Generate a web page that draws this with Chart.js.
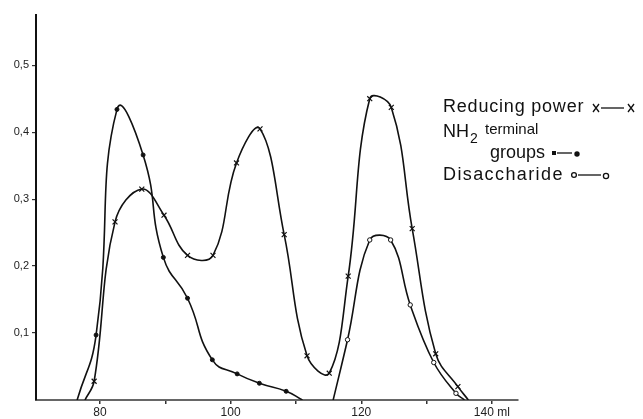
<!DOCTYPE html>
<html>
<head>
<meta charset="utf-8">
<script src="https://cdn.jsdelivr.net/npm/chart.js@4"></script>
<style>
  html, body { margin: 0; padding: 0; background: #fff; }
  #wrap { width: 643px; height: 419px; position: relative; }
</style>
</head>
<body>
<div id="wrap"><canvas id="elution"></canvas></div>
<script>
/* Elution profile: reducing power, NH2 terminal groups, disaccharide */

// ml of eluate
const reducingMl = [77.7, 79.1, 82.3, 86.4, 89.8, 93.4, 97.3, 100.9, 104.5, 108.2, 111.7, 115.1, 118.0, 121.3, 124.6, 127.8, 131.4, 134.8, 136.4];
const reducingVal = [0, 0.028, 0.266, 0.315, 0.276, 0.216, 0.216, 0.354, 0.405, 0.247, 0.066, 0.040, 0.185, 0.450, 0.437, 0.256, 0.069, 0.020, 0];

const nh2Ml = [76.5, 79.4, 82.6, 86.6, 89.7, 93.4, 97.2, 101.0, 104.4, 108.5, 111.0];
const nh2Val = [0, 0.097, 0.434, 0.366, 0.213, 0.152, 0.060, 0.039, 0.025, 0.013, 0];

const disaccMl = [115.7, 117.9, 121.3, 124.5, 127.5, 131.1, 134.5, 135.8];
const disaccVal = [0, 0.090, 0.239, 0.239, 0.142, 0.056, 0.010, 0];

const xTicks = [80, 90, 100, 110, 120, 130, 140];
const xTickLabels = { 80: '80', 100: '100', 120: '120', 140: '140 ml' };
const yTicks = [0.1, 0.2, 0.3, 0.4, 0.5];

const toPoints = (xs, ys) => xs.map((x, i) => ({ x: x, y: ys[i] }));
const onBase = (ctx) => ctx.raw && ctx.raw.y === 0;

const LINE = '#111';
const FONT = '"Liberation Sans", Arial, sans-serif';

// legend is hand lettered in the original, so draw it as text next to the plot
const legendText = {
    id: 'legendText',
    afterDraw(chart) {
        const c = chart.ctx;
        c.save();
        c.fillStyle = LINE;
        c.strokeStyle = LINE;
        c.lineWidth = 1.3;
        c.textBaseline = 'alphabetic';
        c.font = '18px ' + FONT;
        c.letterSpacing = '0.8px';
        c.fillText('Reducing power', 443, 112);
        c.letterSpacing = '1.4px';
        c.fillText('Disaccharide', 443, 180);
        c.letterSpacing = '0px';
        c.fillText('NH', 443, 137);
        c.fillText('groups', 490, 158);
        c.font = '14px ' + FONT;
        c.fillText('2', 470, 143);
        c.font = '15px ' + FONT;
        c.fillText('terminal', 485, 134);

        const cross = (x, y) => {
            c.beginPath();
            c.moveTo(x - 3, y - 4); c.lineTo(x + 3, y + 4);
            c.moveTo(x + 3, y - 4); c.lineTo(x - 3, y + 4);
            c.stroke();
        };
        const dash = (x1, x2, y) => {
            c.beginPath(); c.moveTo(x1, y); c.lineTo(x2, y); c.stroke();
        };
        cross(596, 108); dash(601, 624, 108); cross(631, 108);
        c.fillRect(552, 151, 4, 4);
        dash(557, 572, 153);
        c.beginPath(); c.arc(577, 154, 2.7, 0, Math.PI * 2); c.fill();
        c.beginPath(); c.arc(574, 175, 2.4, 0, Math.PI * 2); c.stroke();
        dash(578, 601, 175);
        c.beginPath(); c.arc(606, 176, 2.6, 0, Math.PI * 2); c.stroke();
        c.restore();
    }
};

const createElutionChart = () => {
    const ctx = document.getElementById('elution').getContext('2d');

    return new Chart(ctx, {
        type: 'line',
        data: {
            datasets: [{
                label: 'Reducing power',
                data: toPoints(reducingMl, reducingVal),
                borderColor: LINE,
                borderWidth: 1.6,
                tension: 0.4,
                pointStyle: 'crossRot',
                pointRadius: (ctx) => (onBase(ctx) ? 0 : 3.5),
                pointBorderColor: LINE,
                pointBorderWidth: 1.2
            }, {
                label: 'NH2 terminal groups',
                data: toPoints(nh2Ml, nh2Val),
                borderColor: LINE,
                borderWidth: 1.6,
                tension: 0.5,
                pointStyle: 'circle',
                pointRadius: (ctx) => (onBase(ctx) ? 0 : 2),
                pointBackgroundColor: LINE,
                pointBorderColor: LINE,
                pointBorderWidth: 1
            }, {
                label: 'Disaccharide',
                data: toPoints(disaccMl, disaccVal),
                borderColor: LINE,
                borderWidth: 1.6,
                tension: 0.4,
                pointStyle: 'circle',
                pointRadius: (ctx) => (onBase(ctx) ? 0 : 2.2),
                pointBackgroundColor: '#fff',
                pointBorderColor: LINE,
                pointBorderWidth: 1
            }]
        },
        options: {
            responsive: true,
            maintainAspectRatio: false,
            animation: false,
            layout: { padding: { top: 15, right: 125, left: 0, bottom: 0 } },
            scales: {
                x: {
                    type: 'linear',
                    min: 70.2,
                    max: 144,
                    afterBuildTicks: (scale) => { scale.ticks = xTicks.map(v => ({ value: v })); },
                    afterFit: (scale) => { scale.height = 19; },
                    border: { display: true, color: '#666', width: 2 },
                    grid: { drawOnChartArea: false, drawTicks: true, tickLength: 4, color: '#333', lineWidth: 1.5 },
                    ticks: {
                        color: '#222',
                        padding: 1,
                        maxRotation: 0,
                        autoSkip: false,
                        font: { family: FONT, size: 12 },
                        callback: (v) => xTickLabels[v] || ''
                    }
                },
                y: {
                    min: 0,
                    max: 0.575,
                    afterBuildTicks: (scale) => { scale.ticks = yTicks.map(v => ({ value: v })); },
                    afterFit: (scale) => { scale.width = 36; },
                    border: { display: true, color: '#111', width: 2 },
                    grid: { drawOnChartArea: false, drawTicks: true, tickLength: 4, color: '#333', lineWidth: 1.2 },
                    ticks: {
                        color: '#222',
                        padding: 3,
                        font: { family: FONT, size: 11 },
                        callback: (v) => v.toFixed(1).replace('.', ',')
                    }
                }
            },
            plugins: {
                legend: { display: false },
                tooltip: { enabled: false }
            }
        },
        plugins: [legendText]
    });
};

createElutionChart();
</script>
</body>
</html>
